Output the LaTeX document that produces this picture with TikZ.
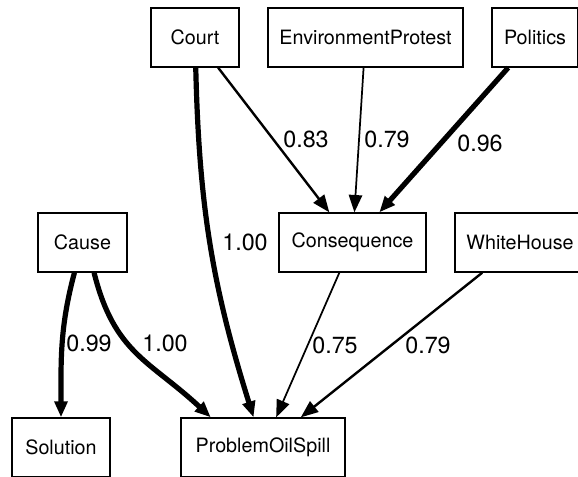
\documentclass[tikz,border=0pt]{standalone}
\usepackage{fontspec}
\setmainfont{TeX Gyre Heros}
\usetikzlibrary{arrows.meta}

\begin{document}
\begin{tikzpicture}[x=0.75pt, y=0.75pt, % Raster in Pixeln
  box/.style={draw, line width=1pt, minimum height=44.25pt, inner sep=0pt,
    font=\fontsize{14.8}{17}\selectfont},
  weight/.style={inner sep=0pt, font=\fontsize{17.5}{20}\selectfont},
  edge lo/.style={line width=1.3pt, -{Triangle[length=13pt, width=10pt]}},
  edge mid/.style={line width=1.8pt, -{Triangle[length=13pt, width=10pt]}},
  edge hi/.style={line width=3.9pt, -{Triangle[length=12pt, width=9.5pt]}}]

\useasboundingbox (0,0) rectangle (578,-476);

% Obere Reihe
\node[box, minimum width=66pt] (court) at (195,-37.5) {Court};
\node[box, minimum width=146.25pt] (protest) at (365.5,-37.5) {EnvironmentProtest};
\node[box, minimum width=64.5pt] (politics) at (535,-37.5) {Politics};

% Mittlere Reihe
\node[box, minimum width=66.75pt] (cause) at (82.5,-242.5) {Cause};
\node[box, minimum width=110.25pt] (consequence) at (352.5,-242.5) {Consequence};
\node[box, minimum width=97.5pt] (whitehouse) at (520,-242.5) {WhiteHouse};

% Untere Reihe, unten angeschnitten
\node[box, minimum width=73.5pt] (solution) at (61,-447.5) {Solution};
\node[box, minimum width=123pt] (oilspill) at (263,-447.5) {ProblemOilSpill};

% Kanten
\draw[edge mid] (court) -- (consequence);
\draw[edge lo] (protest) -- (consequence);
\draw[edge hi] (politics) -- (consequence);
\draw[edge hi] (court) to[bend right=8] (oilspill);
\draw[edge hi] (cause) to[out=-105, in=90] (solution);
\draw[edge hi] (cause.-69) to[out=-76, in=137, looseness=1.15] (oilspill.150);
\draw[edge lo] (consequence) -- (oilspill);
\draw[edge mid] (whitehouse) -- (oilspill);

% Gewichte an den Kanten
\node[weight] (w83) at (306,-139) {0.83};
\node[weight] (w79a) at (387,-139) {0.79};
\node[weight] (w96) at (480,-143) {0.96};
\node[weight] (w100a) at (245,-242) {1.00};
\node[weight] (w99) at (89,-343) {0.99};
\node[weight] (w100b) at (165,-343) {1.00};
\node[weight] (w75) at (335,-345) {0.75};
\node[weight] (w79b) at (428,-345) {0.79};
\end{tikzpicture}
\end{document}
